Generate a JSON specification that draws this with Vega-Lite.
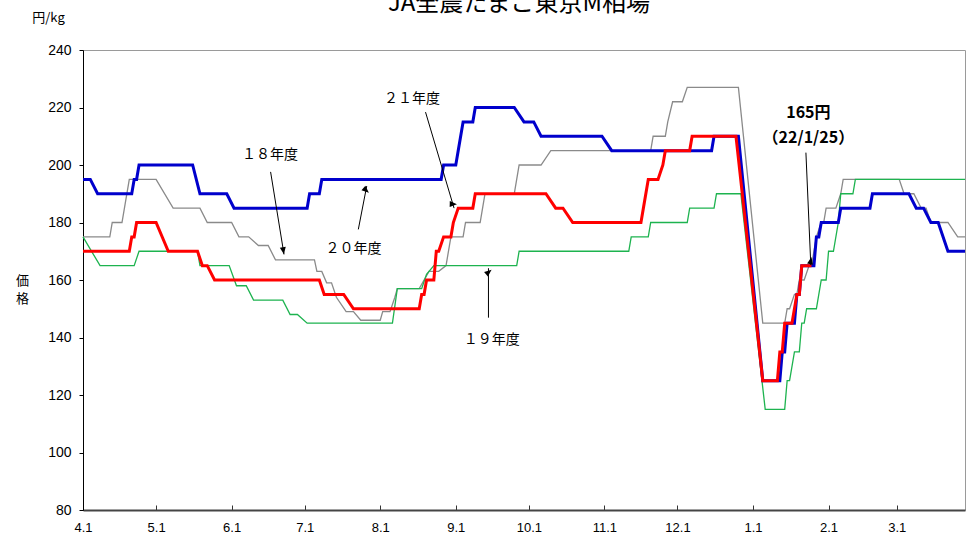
{
  "$schema": "https://vega.github.io/schema/vega-lite/v6.json",
  "width": 882,
  "height": 460,
  "autosize": {"type": "none"},
  "padding": {"left": 83, "top": 50, "right": 5, "bottom": 32},
  "background": "white",
  "config": {"view": {"stroke": "#9a9a9a", "strokeWidth": 1}, "font": "Noto Sans CJK JP"},
  "title": {"text": "JA全農たまご東京M相場", "font": "Noto Sans CJK JP", "fontSize": 24, "fontWeight": "normal", "anchor": "middle", "offset": -5, "color": "black", "dx": -5},
  "datasets": {
    "prices": [
      {"series": "18年度", "date": "2021-04-01", "price": 175},
      {"series": "18年度", "date": "2021-04-12", "price": 175},
      {"series": "18年度", "date": "2021-04-13", "price": 180},
      {"series": "18年度", "date": "2021-04-17", "price": 180},
      {"series": "18年度", "date": "2021-04-20", "price": 195},
      {"series": "18年度", "date": "2021-05-01", "price": 195},
      {"series": "18年度", "date": "2021-05-08", "price": 185},
      {"series": "18年度", "date": "2021-05-19", "price": 185},
      {"series": "18年度", "date": "2021-05-22", "price": 180},
      {"series": "18年度", "date": "2021-06-01", "price": 180},
      {"series": "18年度", "date": "2021-06-04", "price": 175},
      {"series": "18年度", "date": "2021-06-08", "price": 175},
      {"series": "18年度", "date": "2021-06-12", "price": 172},
      {"series": "18年度", "date": "2021-06-16", "price": 172},
      {"series": "18年度", "date": "2021-06-19", "price": 167},
      {"series": "18年度", "date": "2021-07-05", "price": 167},
      {"series": "18年度", "date": "2021-07-06", "price": 163},
      {"series": "18年度", "date": "2021-07-08", "price": 163},
      {"series": "18年度", "date": "2021-07-10", "price": 159},
      {"series": "18年度", "date": "2021-07-12", "price": 159},
      {"series": "18年度", "date": "2021-07-14", "price": 154},
      {"series": "18年度", "date": "2021-07-18", "price": 149},
      {"series": "18年度", "date": "2021-07-21", "price": 149},
      {"series": "18年度", "date": "2021-07-24", "price": 146},
      {"series": "18年度", "date": "2021-08-01", "price": 146},
      {"series": "18年度", "date": "2021-08-02", "price": 149},
      {"series": "18年度", "date": "2021-08-05", "price": 149},
      {"series": "18年度", "date": "2021-08-07", "price": 154},
      {"series": "18年度", "date": "2021-08-08", "price": 157},
      {"series": "18年度", "date": "2021-08-17", "price": 157},
      {"series": "18年度", "date": "2021-08-21", "price": 163},
      {"series": "18年度", "date": "2021-08-25", "price": 163},
      {"series": "18年度", "date": "2021-08-28", "price": 165},
      {"series": "18年度", "date": "2021-08-30", "price": 175},
      {"series": "18年度", "date": "2021-09-04", "price": 175},
      {"series": "18年度", "date": "2021-09-05", "price": 180},
      {"series": "18年度", "date": "2021-09-11", "price": 180},
      {"series": "18年度", "date": "2021-09-12", "price": 185},
      {"series": "18年度", "date": "2021-09-13", "price": 190},
      {"series": "18年度", "date": "2021-09-25", "price": 190},
      {"series": "18年度", "date": "2021-09-26", "price": 195},
      {"series": "18年度", "date": "2021-09-27", "price": 200},
      {"series": "18年度", "date": "2021-10-06", "price": 200},
      {"series": "18年度", "date": "2021-10-10", "price": 205},
      {"series": "18年度", "date": "2021-11-20", "price": 205},
      {"series": "18年度", "date": "2021-11-21", "price": 210},
      {"series": "18年度", "date": "2021-11-26", "price": 210},
      {"series": "18年度", "date": "2021-11-27", "price": 215},
      {"series": "18年度", "date": "2021-11-29", "price": 222},
      {"series": "18年度", "date": "2021-12-03", "price": 222},
      {"series": "18年度", "date": "2021-12-05", "price": 227},
      {"series": "18年度", "date": "2021-12-26", "price": 227},
      {"series": "18年度", "date": "2022-01-05", "price": 145},
      {"series": "18年度", "date": "2022-01-14", "price": 145},
      {"series": "18年度", "date": "2022-01-15", "price": 150},
      {"series": "18年度", "date": "2022-01-16", "price": 150},
      {"series": "18年度", "date": "2022-01-18", "price": 155},
      {"series": "18年度", "date": "2022-01-19", "price": 155},
      {"series": "18年度", "date": "2022-01-20", "price": 160},
      {"series": "18年度", "date": "2022-01-22", "price": 160},
      {"series": "18年度", "date": "2022-01-24", "price": 165},
      {"series": "18年度", "date": "2022-01-25", "price": 165},
      {"series": "18年度", "date": "2022-01-26", "price": 170},
      {"series": "18年度", "date": "2022-01-27", "price": 175},
      {"series": "18年度", "date": "2022-01-29", "price": 180},
      {"series": "18年度", "date": "2022-01-30", "price": 180},
      {"series": "18年度", "date": "2022-01-31", "price": 185},
      {"series": "18年度", "date": "2022-02-04", "price": 185},
      {"series": "18年度", "date": "2022-02-06", "price": 190},
      {"series": "18年度", "date": "2022-02-07", "price": 195},
      {"series": "18年度", "date": "2022-03-02", "price": 195},
      {"series": "18年度", "date": "2022-03-04", "price": 190},
      {"series": "18年度", "date": "2022-03-08", "price": 190},
      {"series": "18年度", "date": "2022-03-11", "price": 185},
      {"series": "18年度", "date": "2022-03-13", "price": 185},
      {"series": "18年度", "date": "2022-03-15", "price": 180},
      {"series": "18年度", "date": "2022-03-22", "price": 180},
      {"series": "18年度", "date": "2022-03-26", "price": 175},
      {"series": "18年度", "date": "2022-03-29", "price": 175},

      {"series": "19年度", "date": "2021-04-01", "price": 175},
      {"series": "19年度", "date": "2021-04-08", "price": 165},
      {"series": "19年度", "date": "2021-04-22", "price": 165},
      {"series": "19年度", "date": "2021-04-24", "price": 170},
      {"series": "19年度", "date": "2021-05-18", "price": 170},
      {"series": "19年度", "date": "2021-05-19", "price": 165},
      {"series": "19年度", "date": "2021-05-31", "price": 165},
      {"series": "19年度", "date": "2021-06-03", "price": 158},
      {"series": "19年度", "date": "2021-06-07", "price": 158},
      {"series": "19年度", "date": "2021-06-10", "price": 153},
      {"series": "19年度", "date": "2021-06-22", "price": 153},
      {"series": "19年度", "date": "2021-06-25", "price": 148},
      {"series": "19年度", "date": "2021-06-28", "price": 148},
      {"series": "19年度", "date": "2021-07-02", "price": 145},
      {"series": "19年度", "date": "2021-08-06", "price": 145},
      {"series": "19年度", "date": "2021-08-08", "price": 157},
      {"series": "19年度", "date": "2021-08-18", "price": 157},
      {"series": "19年度", "date": "2021-08-20", "price": 162},
      {"series": "19年度", "date": "2021-08-23", "price": 165},
      {"series": "19年度", "date": "2021-09-26", "price": 165},
      {"series": "19年度", "date": "2021-09-27", "price": 170},
      {"series": "19年度", "date": "2021-11-11", "price": 170},
      {"series": "19年度", "date": "2021-11-12", "price": 175},
      {"series": "19年度", "date": "2021-11-19", "price": 175},
      {"series": "19年度", "date": "2021-11-20", "price": 180},
      {"series": "19年度", "date": "2021-12-05", "price": 180},
      {"series": "19年度", "date": "2021-12-06", "price": 185},
      {"series": "19年度", "date": "2021-12-16", "price": 185},
      {"series": "19年度", "date": "2021-12-17", "price": 190},
      {"series": "19年度", "date": "2021-12-27", "price": 190},
      {"series": "19年度", "date": "2022-01-06", "price": 115},
      {"series": "19年度", "date": "2022-01-14", "price": 115},
      {"series": "19年度", "date": "2022-01-15", "price": 125},
      {"series": "19年度", "date": "2022-01-16", "price": 125},
      {"series": "19年度", "date": "2022-01-18", "price": 135},
      {"series": "19年度", "date": "2022-01-20", "price": 135},
      {"series": "19年度", "date": "2022-01-21", "price": 145},
      {"series": "19年度", "date": "2022-01-22", "price": 145},
      {"series": "19年度", "date": "2022-01-23", "price": 150},
      {"series": "19年度", "date": "2022-01-27", "price": 150},
      {"series": "19年度", "date": "2022-01-29", "price": 160},
      {"series": "19年度", "date": "2022-01-31", "price": 160},
      {"series": "19年度", "date": "2022-02-01", "price": 170},
      {"series": "19年度", "date": "2022-02-03", "price": 170},
      {"series": "19年度", "date": "2022-02-05", "price": 180},
      {"series": "19年度", "date": "2022-02-06", "price": 190},
      {"series": "19年度", "date": "2022-02-11", "price": 190},
      {"series": "19年度", "date": "2022-02-12", "price": 195},
      {"series": "19年度", "date": "2022-03-29", "price": 195},

      {"series": "20年度", "date": "2021-04-01", "price": 195},
      {"series": "20年度", "date": "2021-04-04", "price": 195},
      {"series": "20年度", "date": "2021-04-07", "price": 190},
      {"series": "20年度", "date": "2021-04-21", "price": 190},
      {"series": "20年度", "date": "2021-04-22", "price": 195},
      {"series": "20年度", "date": "2021-04-23", "price": 195},
      {"series": "20年度", "date": "2021-04-24", "price": 200},
      {"series": "20年度", "date": "2021-05-16", "price": 200},
      {"series": "20年度", "date": "2021-05-19", "price": 190},
      {"series": "20年度", "date": "2021-05-30", "price": 190},
      {"series": "20年度", "date": "2021-06-02", "price": 185},
      {"series": "20年度", "date": "2021-07-02", "price": 185},
      {"series": "20年度", "date": "2021-07-03", "price": 190},
      {"series": "20年度", "date": "2021-07-07", "price": 190},
      {"series": "20年度", "date": "2021-07-08", "price": 195},
      {"series": "20年度", "date": "2021-08-26", "price": 195},
      {"series": "20年度", "date": "2021-08-27", "price": 200},
      {"series": "20年度", "date": "2021-09-01", "price": 200},
      {"series": "20年度", "date": "2021-09-02", "price": 205},
      {"series": "20年度", "date": "2021-09-04", "price": 215},
      {"series": "20年度", "date": "2021-09-08", "price": 215},
      {"series": "20年度", "date": "2021-09-09", "price": 220},
      {"series": "20年度", "date": "2021-09-25", "price": 220},
      {"series": "20年度", "date": "2021-09-29", "price": 215},
      {"series": "20年度", "date": "2021-10-03", "price": 215},
      {"series": "20年度", "date": "2021-10-06", "price": 210},
      {"series": "20年度", "date": "2021-10-31", "price": 210},
      {"series": "20年度", "date": "2021-11-04", "price": 205},
      {"series": "20年度", "date": "2021-12-15", "price": 205},
      {"series": "20年度", "date": "2021-12-16", "price": 210},
      {"series": "20年度", "date": "2021-12-26", "price": 210},
      {"series": "20年度", "date": "2022-01-05", "price": 125},
      {"series": "20年度", "date": "2022-01-12", "price": 125},
      {"series": "20年度", "date": "2022-01-13", "price": 135},
      {"series": "20年度", "date": "2022-01-14", "price": 135},
      {"series": "20年度", "date": "2022-01-15", "price": 145},
      {"series": "20年度", "date": "2022-01-18", "price": 145},
      {"series": "20年度", "date": "2022-01-19", "price": 155},
      {"series": "20年度", "date": "2022-01-20", "price": 155},
      {"series": "20年度", "date": "2022-01-21", "price": 165},
      {"series": "20年度", "date": "2022-01-26", "price": 165},
      {"series": "20年度", "date": "2022-01-27", "price": 175},
      {"series": "20年度", "date": "2022-01-28", "price": 175},
      {"series": "20年度", "date": "2022-01-29", "price": 180},
      {"series": "20年度", "date": "2022-02-05", "price": 180},
      {"series": "20年度", "date": "2022-02-06", "price": 185},
      {"series": "20年度", "date": "2022-02-18", "price": 185},
      {"series": "20年度", "date": "2022-02-19", "price": 190},
      {"series": "20年度", "date": "2022-03-06", "price": 190},
      {"series": "20年度", "date": "2022-03-09", "price": 185},
      {"series": "20年度", "date": "2022-03-12", "price": 185},
      {"series": "20年度", "date": "2022-03-15", "price": 180},
      {"series": "20年度", "date": "2022-03-18", "price": 180},
      {"series": "20年度", "date": "2022-03-22", "price": 170},
      {"series": "20年度", "date": "2022-03-29", "price": 170},

      {"series": "21年度", "date": "2021-04-01", "price": 170},
      {"series": "21年度", "date": "2021-04-20", "price": 170},
      {"series": "21年度", "date": "2021-04-21", "price": 175},
      {"series": "21年度", "date": "2021-04-22", "price": 175},
      {"series": "21年度", "date": "2021-04-23", "price": 180},
      {"series": "21年度", "date": "2021-05-01", "price": 180},
      {"series": "21年度", "date": "2021-05-06", "price": 170},
      {"series": "21年度", "date": "2021-05-18", "price": 170},
      {"series": "21年度", "date": "2021-05-20", "price": 165},
      {"series": "21年度", "date": "2021-05-22", "price": 165},
      {"series": "21年度", "date": "2021-05-25", "price": 160},
      {"series": "21年度", "date": "2021-07-07", "price": 160},
      {"series": "21年度", "date": "2021-07-09", "price": 155},
      {"series": "21年度", "date": "2021-07-17", "price": 155},
      {"series": "21年度", "date": "2021-07-21", "price": 150},
      {"series": "21年度", "date": "2021-08-17", "price": 150},
      {"series": "21年度", "date": "2021-08-18", "price": 155},
      {"series": "21年度", "date": "2021-08-19", "price": 155},
      {"series": "21年度", "date": "2021-08-20", "price": 160},
      {"series": "21年度", "date": "2021-08-23", "price": 160},
      {"series": "21年度", "date": "2021-08-24", "price": 170},
      {"series": "21年度", "date": "2021-08-25", "price": 170},
      {"series": "21年度", "date": "2021-08-27", "price": 175},
      {"series": "21年度", "date": "2021-08-30", "price": 175},
      {"series": "21年度", "date": "2021-08-31", "price": 180},
      {"series": "21年度", "date": "2021-09-02", "price": 185},
      {"series": "21年度", "date": "2021-09-08", "price": 185},
      {"series": "21年度", "date": "2021-09-09", "price": 190},
      {"series": "21年度", "date": "2021-10-08", "price": 190},
      {"series": "21年度", "date": "2021-10-12", "price": 185},
      {"series": "21年度", "date": "2021-10-15", "price": 185},
      {"series": "21年度", "date": "2021-10-19", "price": 180},
      {"series": "21年度", "date": "2021-11-16", "price": 180},
      {"series": "21年度", "date": "2021-11-17", "price": 185},
      {"series": "21年度", "date": "2021-11-19", "price": 195},
      {"series": "21年度", "date": "2021-11-23", "price": 195},
      {"series": "21年度", "date": "2021-11-25", "price": 200},
      {"series": "21年度", "date": "2021-11-26", "price": 205},
      {"series": "21年度", "date": "2021-12-06", "price": 205},
      {"series": "21年度", "date": "2021-12-07", "price": 210},
      {"series": "21年度", "date": "2021-12-25", "price": 210},
      {"series": "21年度", "date": "2022-01-05", "price": 125},
      {"series": "21年度", "date": "2022-01-11", "price": 125},
      {"series": "21年度", "date": "2022-01-12", "price": 135},
      {"series": "21年度", "date": "2022-01-13", "price": 135},
      {"series": "21年度", "date": "2022-01-14", "price": 145},
      {"series": "21年度", "date": "2022-01-17", "price": 145},
      {"series": "21年度", "date": "2022-01-19", "price": 155},
      {"series": "21年度", "date": "2022-01-20", "price": 155},
      {"series": "21年度", "date": "2022-01-21", "price": 165},
      {"series": "21年度", "date": "2022-01-25", "price": 165}
    ],
    "arrows": [
      {"label": "18年度", "date": "2021-06-17", "price": 197.6, "tipDate": "2021-06-22T12:00:00Z", "tipPrice": 168.9, "headDate": "2021-06-22T05:00:00Z", "headPrice": 170.3},
      {"label": "20年度", "date": "2021-07-23", "price": 177.6, "tipDate": "2021-07-26T11:00:00Z", "tipPrice": 192.7, "headDate": "2021-07-26T02:00:00Z", "headPrice": 191.3},
      {"label": "21年度", "date": "2021-08-19T14:00:00Z", "price": 218.4, "tipDate": "2021-08-31T07:00:00Z", "tipPrice": 185, "headDate": "2021-08-30T20:00:00Z", "headPrice": 186.4},
      {"label": "19年度", "date": "2021-09-14T10:00:00Z", "price": 146.9, "tipDate": "2021-09-14T10:00:00Z", "tipPrice": 164.1, "headDate": "2021-09-14T10:00:00Z", "headPrice": 162.7},
      {"label": "165円", "date": "2022-01-22T17:00:00Z", "price": 204.3, "tipDate": "2022-01-24T17:00:00Z", "tipPrice": 165.2, "headDate": "2022-01-24T16:00:00Z", "headPrice": 166.6}
    ],
    "yearLabels": [
      {"label": "１８年度", "date": "2021-06-16T19:00:00Z", "price": 203.4},
      {"label": "２０年度", "date": "2021-07-21", "price": 170.7},
      {"label": "２１年度", "date": "2021-08-14", "price": 222.9},
      {"label": "１９年度", "date": "2021-09-15T19:00:00Z", "price": 139.0}
    ],
    "callout": [
      {"label": "165円", "date": "2022-01-23T17:00:00Z", "price": 218.2},
      {"label": "（22/1/25）", "date": "2022-01-23T17:00:00Z", "price": 209.3}
    ]
  },
  "layer": [
    {
      "data": {"name": "prices"},
      "transform": [{"filter": "datum.series === '18年度' || datum.series === '19年度'"}],
      "mark": {"type": "line", "strokeWidth": 1.3},
      "encoding": {
        "x": {"field": "date", "type": "temporal",
          "scale": {"type": "utc", "domain": ["2021-04-01", "2022-03-29"]},
          "axis": {
            "title": null,
            "values": [
              {"year": 2021, "month": 4, "date": 1, "utc": true},
              {"year": 2021, "month": 5, "date": 1, "utc": true},
              {"year": 2021, "month": 6, "date": 1, "utc": true},
              {"year": 2021, "month": 7, "date": 1, "utc": true},
              {"year": 2021, "month": 8, "date": 1, "utc": true},
              {"year": 2021, "month": 9, "date": 1, "utc": true},
              {"year": 2021, "month": 10, "date": 1, "utc": true},
              {"year": 2021, "month": 11, "date": 1, "utc": true},
              {"year": 2021, "month": 12, "date": 1, "utc": true},
              {"year": 2022, "month": 1, "date": 1, "utc": true},
              {"year": 2022, "month": 2, "date": 1, "utc": true},
              {"year": 2022, "month": 3, "date": 1, "utc": true}
            ],
            "format": "%-m.%-d",
            "labelFont": "Liberation Sans",
            "labelFontSize": 13,
            "labelColor": "black",
            "labelAngle": 0,
            "labelFlush": false,
            "labelOverlap": false,
            "tickSize": -5,
            "tickColor": "#333",
            "labelPadding": 16,
            "grid": false,
            "domainColor": "#444",
            "domainWidth": 2
          }
        },
        "y": {"field": "price", "type": "quantitative",
          "scale": {"domain": [80, 240], "zero": false, "nice": false},
          "axis": {
            "values": [80, 100, 120, 140, 160, 180, 200, 220, 240],
            "labelFont": "Liberation Sans",
            "labelFontSize": 14,
            "labelColor": "black",
            "tickSize": 4,
            "tickColor": "black",
            "labelPadding": 8,
            "grid": false,
            "domainColor": "black",
            "title": "円/kg",
            "titleAngle": 0,
            "titleX": -35,
            "titleY": -33,
            "titleAlign": "center",
            "titleBaseline": "middle",
            "titleFont": "Noto Sans CJK JP",
            "titleFontSize": 13,
            "titleFontWeight": "normal",
            "titleColor": "black"
          }
        },
        "color": {"field": "series", "type": "nominal",
          "scale": {"domain": ["18年度", "19年度", "20年度", "21年度"], "range": ["#8a8a8a", "#1db34f", "#0000cc", "#ff0000"]},
          "legend": null}
      }
    },
    {
      "data": {"name": "prices"},
      "transform": [{"filter": "datum.series === '20年度' || datum.series === '21年度'"}],
      "mark": {"type": "line", "strokeWidth": 3},
      "encoding": {
        "x": {"field": "date", "type": "temporal", "scale": {"type": "utc", "domain": ["2021-04-01", "2022-03-29"]}},
        "y": {"field": "price", "type": "quantitative", "scale": {"domain": [80, 240], "zero": false, "nice": false}, "axis": null},
        "color": {"field": "series", "type": "nominal",
          "scale": {"domain": ["18年度", "19年度", "20年度", "21年度"], "range": ["#8a8a8a", "#1db34f", "#0000cc", "#ff0000"]},
          "legend": null}
      }
    },
    {
      "data": {"name": "arrows"},
      "mark": {"type": "rule", "color": "black", "strokeWidth": 1},
      "encoding": {
        "x": {"field": "date", "type": "temporal", "scale": {"type": "utc", "domain": ["2021-04-01", "2022-03-29"]}},
        "y": {"field": "price", "type": "quantitative", "scale": {"domain": [80, 240], "zero": false, "nice": false}, "axis": null},
        "x2": {"field": "tipDate"},
        "y2": {"field": "tipPrice"}
      }
    },
    {
      "data": {"name": "arrows"},
      "mark": {"type": "point", "shape": "M0,-1L0.75,0.8L-0.75,0.8Z", "filled": true, "color": "black", "size": 64, "opacity": 1},
      "encoding": {
        "x": {"field": "headDate", "type": "temporal", "scale": {"type": "utc", "domain": ["2021-04-01", "2022-03-29"]}},
        "y": {"field": "headPrice", "type": "quantitative", "scale": {"domain": [80, 240], "zero": false, "nice": false}, "axis": null},
        "angle": {"field": "label", "type": "ordinal",
          "scale": {"domain": ["18年度", "20年度", "21年度", "19年度", "165円"], "range": [171, 11, 163.5, 0, 177.5]},
          "legend": null}
      }
    },
    {
      "data": {"name": "yearLabels"},
      "mark": {"type": "text", "font": "Noto Sans CJK JP", "fontSize": 14, "color": "black", "align": "center", "baseline": "middle"},
      "encoding": {
        "x": {"field": "date", "type": "temporal", "scale": {"type": "utc", "domain": ["2021-04-01", "2022-03-29"]}},
        "y": {"field": "price", "type": "quantitative", "scale": {"domain": [80, 240], "zero": false, "nice": false},
          "axis": {"orient": "left", "labels": false, "ticks": false, "domain": false, "grid": false,
            "title": ["価", "格"], "titleAngle": 0, "titleX": -61, "titleY": 230,
            "titleAlign": "center", "titleBaseline": "middle", "titleFont": "Noto Sans CJK JP",
            "titleFontSize": 13, "titleFontWeight": "normal", "titleColor": "black", "titleLineHeight": 18}},
        "text": {"field": "label"}
      }
    },
    {
      "data": {"name": "callout"},
      "mark": {"type": "text", "font": "Noto Sans CJK JP", "fontSize": 16, "fontWeight": "bold", "color": "black", "align": "center", "baseline": "middle"},
      "encoding": {
        "x": {"field": "date", "type": "temporal", "scale": {"type": "utc", "domain": ["2021-04-01", "2022-03-29"]}},
        "y": {"field": "price", "type": "quantitative", "scale": {"domain": [80, 240], "zero": false, "nice": false}, "axis": null},
        "text": {"field": "label"}
      }
    }
  ],
  "resolve": {"axis": {"y": "independent"}}
}
